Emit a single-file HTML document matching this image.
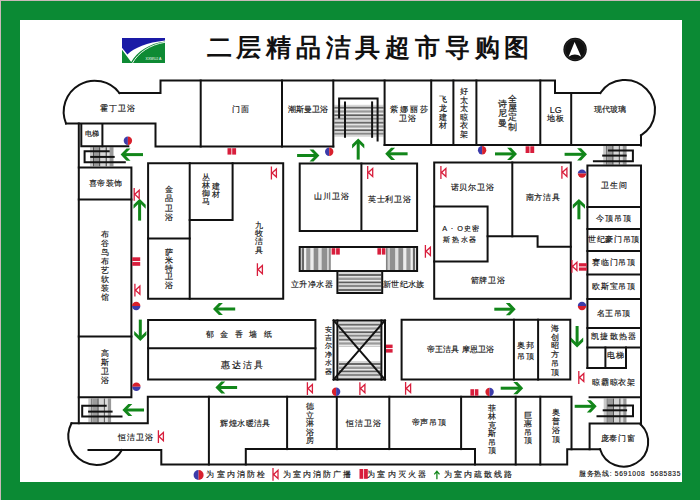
<!DOCTYPE html>
<html><head><meta charset="utf-8"><style>
*{margin:0;padding:0;box-sizing:border-box}
html,body{width:700px;height:500px;overflow:hidden;background:#0b8a34}
body{position:relative;font-family:"Liberation Sans",sans-serif;color:#1a1a1a}
#edge{position:absolute;left:0;top:0;width:700px;height:500px;border-top:1px solid #c9b9b9;border-left:1px solid #c9b9b9}
#paper{position:absolute;left:20px;top:20px;width:662px;height:462px;background:#fff}
#map{position:absolute;left:0;top:0}
.t{position:absolute;white-space:nowrap;transform:translate(-50%,-50%);line-height:1;color:#111;-webkit-text-stroke:0.15px #111}
.v{position:absolute;transform:translateX(-50%);text-align:center;width:12px;margin-left:0}
.l{position:absolute;font-size:9.3px;white-space:nowrap;line-height:1;letter-spacing:0.8px;color:#111;-webkit-text-stroke:0.15px #111}
#title{position:absolute;left:206.5px;top:35.5px;font-size:24.5px;font-weight:bold;letter-spacing:4.8px;white-space:nowrap;line-height:1;font-family:"Liberation Serif",serif;color:#111}
#logo{position:absolute;left:122px;top:38px}
#compass{position:absolute;left:562px;top:35.5px}
</style></head><body>
<div id="edge"></div>
<div id="paper"></div>

<svg id="logo" width="43" height="25" viewBox="0 0 43 25">
 <rect width="43" height="25" fill="#1a1aa6"/>
 <path d="M0,9.8 L5.4,16.4 C12,10 25,4.5 43,2.5 L43,25 L0,25 Z" fill="#fff"/>
 <path d="M0,11.8 L9.2,24 C15,14 27,5.5 43,3.6 L43,25 L0,25 Z" fill="#0e8a34"/>
 <path d="M10.5,25 C16,15 28,6.5 43,4.3" stroke="#fff" stroke-width="0.9" fill="none"/>
 <text x="23.5" y="22" font-size="3.6" fill="#fff" font-family="Liberation Sans, sans-serif">XXWUJ A</text>
</svg>

<svg id="compass" width="26" height="26" viewBox="0 0 26 26">
 <circle cx="13.1" cy="13.5" r="11.7" fill="#111"/>
 <circle cx="13.1" cy="13.5" r="10.3" fill="none" stroke="#444" stroke-width="0.4"/>
 <path d="M12.6,6 L19.2,20.7 Q12.8,16.3 6.6,20.7 Z" fill="#fff"/>
</svg>
<svg id="map" width="700" height="500" viewBox="0 0 700 500">

<g><rect x="334.3" y="104.80" width="49.30" height="2.00" fill="#d8d8d8"/><rect x="334.3" y="106.80" width="49.30" height="2.00" fill="#6a6a6a"/><rect x="334.3" y="108.80" width="49.30" height="1.50" fill="#e4e4e4"/><rect x="334.3" y="110.30" width="49.30" height="2.50" fill="#9a9a9a"/><rect x="334.3" y="112.80" width="49.30" height="1.50" fill="#eaeaea"/><rect x="334.3" y="114.30" width="49.30" height="2.00" fill="#5e5e5e"/><rect x="334.3" y="116.30" width="49.30" height="1.50" fill="#d4d4d4"/><rect x="334.3" y="117.80" width="49.30" height="2.00" fill="#888"/><rect x="334.3" y="119.80" width="49.30" height="2.00" fill="#d8d8d8"/><rect x="334.3" y="121.80" width="49.30" height="2.00" fill="#6a6a6a"/><rect x="334.3" y="123.80" width="49.30" height="1.50" fill="#e4e4e4"/><rect x="334.3" y="125.30" width="49.30" height="2.50" fill="#9a9a9a"/><rect x="334.3" y="127.80" width="49.30" height="1.50" fill="#eaeaea"/><rect x="334.3" y="129.30" width="49.30" height="2.00" fill="#5e5e5e"/><rect x="334.3" y="131.30" width="49.30" height="1.50" fill="#d4d4d4"/><rect x="334.3" y="132.80" width="49.30" height="2.00" fill="#888"/><rect x="334.3" y="134.80" width="49.30" height="2.00" fill="#d8d8d8"/><rect x="90.00" y="147.2" width="3.00" height="19.10" fill="#c8c8c8"/><rect x="93.00" y="147.2" width="1.00" height="19.10" fill="#555"/><rect x="94.00" y="147.2" width="5.00" height="19.10" fill="#9c9c9c"/><rect x="99.00" y="147.2" width="1.50" height="19.10" fill="#555"/><rect x="100.50" y="147.2" width="5.00" height="19.10" fill="#d6d6d6"/><rect x="105.50" y="147.2" width="1.50" height="19.10" fill="#666"/><rect x="107.00" y="147.2" width="2.50" height="19.10" fill="#dedede"/><rect x="109.50" y="147.2" width="4.00" height="19.10" fill="#999"/><rect x="113.50" y="147.2" width="0.20" height="19.10" fill="#c8c8c8"/><rect x="603.20" y="146" width="3.00" height="18.60" fill="#c8c8c8"/><rect x="606.20" y="146" width="1.00" height="18.60" fill="#555"/><rect x="607.20" y="146" width="5.00" height="18.60" fill="#9c9c9c"/><rect x="612.20" y="146" width="1.50" height="18.60" fill="#555"/><rect x="613.70" y="146" width="5.00" height="18.60" fill="#d6d6d6"/><rect x="618.70" y="146" width="1.50" height="18.60" fill="#666"/><rect x="620.20" y="146" width="2.50" height="18.60" fill="#dedede"/><rect x="622.70" y="146" width="3.90" height="18.60" fill="#999"/><rect x="88.30" y="398.5" width="3.00" height="23.90" fill="#c8c8c8"/><rect x="91.30" y="398.5" width="1.00" height="23.90" fill="#555"/><rect x="92.30" y="398.5" width="5.00" height="23.90" fill="#9c9c9c"/><rect x="97.30" y="398.5" width="1.50" height="23.90" fill="#555"/><rect x="98.80" y="398.5" width="5.00" height="23.90" fill="#d6d6d6"/><rect x="103.80" y="398.5" width="1.50" height="23.90" fill="#666"/><rect x="105.30" y="398.5" width="2.50" height="23.90" fill="#dedede"/><rect x="107.80" y="398.5" width="3.30" height="23.90" fill="#999"/><rect x="603.70" y="398.5" width="3.00" height="24.10" fill="#c8c8c8"/><rect x="606.70" y="398.5" width="1.00" height="24.10" fill="#555"/><rect x="607.70" y="398.5" width="5.00" height="24.10" fill="#9c9c9c"/><rect x="612.70" y="398.5" width="1.50" height="24.10" fill="#555"/><rect x="614.20" y="398.5" width="5.00" height="24.10" fill="#d6d6d6"/><rect x="619.20" y="398.5" width="1.50" height="24.10" fill="#666"/><rect x="620.70" y="398.5" width="2.50" height="24.10" fill="#dedede"/><rect x="623.20" y="398.5" width="3.30" height="24.10" fill="#999"/><rect x="300.70" y="248.1" width="1.00" height="21.90" fill="#eee"/><rect x="301.70" y="248.1" width="2.50" height="21.90" fill="#686868"/><rect x="304.20" y="248.1" width="2.00" height="21.90" fill="#f0f0f0"/><rect x="306.20" y="248.1" width="4.40" height="21.90" fill="#9a9a9a"/><rect x="310.60" y="248.1" width="3.00" height="21.90" fill="#ececec"/><rect x="313.60" y="248.1" width="5.00" height="21.90" fill="#8c8c8c"/><rect x="318.60" y="248.1" width="3.00" height="21.90" fill="#e0e0e0"/><rect x="321.60" y="248.1" width="5.70" height="21.90" fill="#909090"/><rect x="327.30" y="248.1" width="2.00" height="21.90" fill="#ccc"/><rect x="329.30" y="248.1" width="1.30" height="21.90" fill="#666"/><rect x="415.10" y="248.1" width="1.00" height="21.90" fill="#eee"/><rect x="412.60" y="248.1" width="2.50" height="21.90" fill="#686868"/><rect x="410.60" y="248.1" width="2.00" height="21.90" fill="#f0f0f0"/><rect x="406.20" y="248.1" width="4.40" height="21.90" fill="#9a9a9a"/><rect x="403.20" y="248.1" width="3.00" height="21.90" fill="#ececec"/><rect x="398.20" y="248.1" width="5.00" height="21.90" fill="#8c8c8c"/><rect x="395.20" y="248.1" width="3.00" height="21.90" fill="#e0e0e0"/><rect x="389.50" y="248.1" width="5.70" height="21.90" fill="#909090"/><rect x="387.50" y="248.1" width="2.00" height="21.90" fill="#ccc"/><rect x="386.10" y="248.1" width="1.40" height="21.90" fill="#666"/><rect x="385.60" y="248.1" width="0.50" height="21.90" fill="#eee"/><rect x="338.4" y="272.00" width="42.80" height="2.00" fill="#d8d8d8"/><rect x="338.4" y="274.00" width="42.80" height="2.00" fill="#6a6a6a"/><rect x="338.4" y="276.00" width="42.80" height="1.50" fill="#e4e4e4"/><rect x="338.4" y="277.50" width="42.80" height="2.50" fill="#9a9a9a"/><rect x="338.4" y="280.00" width="42.80" height="1.50" fill="#eaeaea"/><rect x="338.4" y="281.50" width="42.80" height="2.00" fill="#5e5e5e"/><rect x="338.4" y="283.50" width="42.80" height="1.50" fill="#d4d4d4"/><rect x="338.4" y="285.00" width="42.80" height="2.00" fill="#888"/><rect x="338.4" y="287.00" width="42.80" height="2.00" fill="#d8d8d8"/><rect x="338.4" y="289.00" width="42.80" height="2.00" fill="#6a6a6a"/><rect x="338.4" y="291.00" width="42.80" height="1.00" fill="#e4e4e4"/><rect x="338.9" y="321.80" width="41.80" height="2.00" fill="#d8d8d8"/><rect x="338.9" y="323.80" width="41.80" height="2.00" fill="#6a6a6a"/><rect x="338.9" y="325.80" width="41.80" height="1.50" fill="#e4e4e4"/><rect x="338.9" y="327.30" width="41.80" height="2.50" fill="#9a9a9a"/><rect x="338.9" y="329.80" width="41.80" height="1.50" fill="#eaeaea"/><rect x="338.9" y="331.30" width="41.80" height="2.00" fill="#5e5e5e"/><rect x="338.9" y="333.30" width="41.80" height="1.50" fill="#d4d4d4"/><rect x="338.9" y="334.80" width="41.80" height="2.00" fill="#888"/><rect x="338.9" y="336.80" width="41.80" height="2.00" fill="#d8d8d8"/><rect x="338.9" y="338.80" width="41.80" height="2.00" fill="#6a6a6a"/><rect x="338.9" y="340.80" width="41.80" height="1.50" fill="#e4e4e4"/><rect x="338.9" y="342.30" width="41.80" height="2.50" fill="#9a9a9a"/><rect x="338.9" y="344.80" width="41.80" height="1.50" fill="#eaeaea"/><rect x="338.9" y="346.30" width="41.80" height="0.30" fill="#5e5e5e"/><rect x="338.9" y="361.00" width="41.80" height="2.00" fill="#d8d8d8"/><rect x="338.9" y="363.00" width="41.80" height="2.00" fill="#6a6a6a"/><rect x="338.9" y="365.00" width="41.80" height="1.50" fill="#e4e4e4"/><rect x="338.9" y="366.50" width="41.80" height="2.50" fill="#9a9a9a"/><rect x="338.9" y="369.00" width="41.80" height="1.50" fill="#eaeaea"/><rect x="338.9" y="370.50" width="41.80" height="2.00" fill="#5e5e5e"/><rect x="338.9" y="372.50" width="41.80" height="1.50" fill="#d4d4d4"/><rect x="338.9" y="374.00" width="41.80" height="2.00" fill="#888"/><rect x="338.9" y="376.00" width="41.80" height="2.00" fill="#d8d8d8"/><rect x="338.9" y="378.00" width="41.80" height="0.40" fill="#6a6a6a"/></g>
<g fill="none" stroke="#111" stroke-width="2" stroke-linecap="square">
<path d="M119.43,93.00 A31,31 0 0,0 79.32,84.79 A31,31 0 0,0 66.04,123.51"/>
<path d="M119.43,93.00 H160.5 V80.5 H555 V93 H600.28"/>
<path d="M600.28,93.01 A30,30 0 0,1 646.63,89.22 A30,30 0 0,1 640.99,135.39"/>
<path d="M640.99,135.39 V145.5"/>
<path d="M66.04,123.51 H155.5 V146.5 H333.3"/>
<path d="M384.6,145 H641"/>
<path d="M200.7,80.5 V146.5"/>
<path d="M282,80.5 V146.5"/>
<path d="M333.3,80.5 V146.5"/>
<path d="M384.6,80.5 V145"/>
<path d="M431.2,80.5 V145"/>
<path d="M453.4,80.5 V145"/>
<path d="M476.4,80.5 V145"/>
<path d="M540.3,80.5 V145"/>
<path d="M571.2,93 V145"/>
<path d="M78.8,123.5 V423.3"/>
<path d="M81.3,124 V146.3 H128.3"/>
<path d="M102.4,124 V146.3"/>
<path d="M78.8,167.4 H131.4 V397.2 H78.8"/>
<path d="M78.8,199.6 H131.4"/>
<path d="M78.8,336.4 H131.4"/>
<path d="M71.50,423.28 H147.8 V396.8 H571.5 V449.2"/>
<path d="M71.50,423.28 A28.5,28.5 0 0,0 83.44,461.58 A28.5,28.5 0 0,0 121.85,450.00"/>
<path d="M88.5,450 H161.3 V464.5 H567.2 V449.2 H600.07"/>
<path d="M600.07,449.19 A24.6,24.6 0 0,0 636.38,463.02 A24.6,24.6 0 0,0 640.81,424.42"/>
<path d="M640.81,424.42 V423.6"/>
<path d="M589.6,449.2 V423.6 H640.8"/>
<path d="M208.9,396.8 V464.5"/>
<path d="M245.8,464.5 V449.1 H475 V464.5"/>
<path d="M287.1,396.8 V449.1"/>
<path d="M336.8,396.8 V449.1"/>
<path d="M389.3,396.8 V449.1"/>
<path d="M461.1,396.8 V449.1"/>
<path d="M515.7,396.8 V464.5"/>
<path d="M540.3,396.8 V464.5"/>
<path d="M148.1,163.2 H283.2 V298.8 H148.1 Z"/>
<path d="M189.7,163.2 V298.8"/>
<path d="M148.1,238.6 H189.7"/>
<path d="M189.7,220 H232.6 V163.2"/>
<path d="M299.7,163.6 H417.1 V231 H299.7 Z"/>
<path d="M361.4,163.6 V231"/>
<path d="M299.7,271 V247.1 H417.1 V271 H382.2 V292.9 H337.4 V271 Z"/>
<path d="M337.4,271 H382.2"/>
<path d="M148.1,320 H315.4 V379.4 H148.1 Z"/>
<path d="M148.1,348.3 H315.4"/>
<path d="M333.6,320.4 H385 V379.6 H333.6 Z"/>
<path d="M337.4,320.4 V379.6"/>
<path d="M381.4,320.4 V379.6"/>
<path d="M333.6,320.4 L385,379.6"/>
<path d="M385,320.4 L333.6,379.6"/>
<path d="M434.2,162.5 H570.8 V298.7 H434.2 Z"/>
<path d="M512.3,162.5 V236.3"/>
<path d="M434.2,206.4 H487.6 V261.4 H434.2"/>
<path d="M487.6,236.3 H537.6 V246.8 H570.8"/>
<path d="M401.6,319.7 H570.3 V379.6 H401.6 Z"/>
<path d="M513.9,319.7 V379.6"/>
<path d="M538.1,319.7 V379.6"/>
<path d="M587.4,367.9 V165.6 H641 V423.6"/>
<path d="M587.4,206.9 H641"/>
<path d="M587.4,228.9 H641"/>
<path d="M587.4,251 H641"/>
<path d="M587.4,274.6 H641"/>
<path d="M587.4,299 H641"/>
<path d="M587.4,328.1 H641"/>
<path d="M587.4,347.5 H641"/>
<path d="M605.4,347.5 V367.9"/>
<path d="M626,347.5 V367.9 H587.4"/>
<path d="M339.1,117.5 V98.6 H377.6 V140.6"/>
<path d="M345,102.4 V136.8"/>
<path d="M372.1,102.4 V136.8"/>
<path d="M108.7,151.2 H84.6 V162.3 H124.8"/>
<path d="M91.2,156.9 H113.7"/>
<path d="M608.9,150.4 H632.9 V161.3 H593.9"/>
<path d="M603.2,155.6 H625.7"/>
<path d="M105.7,405.7 H82.2 V416.4 H121.5"/>
<path d="M89.1,411.6 H111.6"/>
<path d="M589.6,397.2 H640.8"/>
<path d="M608.5,405.6 H633 V416.2 H597.5"/>
<path d="M603.7,410.3 H626.1"/>
</g>
<rect x="124.00" y="153.10" width="19.00" height="3" fill="#12861a"/>
<path d="M120.60,154.60 L126.50,160.70 L130.50,160.70 L124.60,154.60 L130.50,148.50 L126.50,148.50 Z" fill="#12861a"/>
<rect x="297.10" y="154.00" width="18.90" height="3" fill="#12861a"/>
<path d="M319.40,155.50 L313.50,161.60 L309.50,161.60 L315.40,155.50 L309.50,149.40 L313.50,149.40 Z" fill="#12861a"/>
<rect x="356.70" y="142.00" width="3" height="17.60" fill="#12861a"/>
<path d="M358.20,138.60 L364.30,144.50 L364.30,148.50 L358.20,142.60 L352.10,148.50 L352.10,144.50 Z" fill="#12861a"/>
<rect x="388.60" y="152.30" width="19.00" height="3" fill="#12861a"/>
<path d="M385.20,153.80 L391.10,159.90 L395.10,159.90 L389.20,153.80 L395.10,147.70 L391.10,147.70 Z" fill="#12861a"/>
<rect x="495.00" y="152.40" width="18.60" height="3" fill="#12861a"/>
<path d="M517.00,153.90 L511.10,160.00 L507.10,160.00 L513.00,153.90 L507.10,147.80 L511.10,147.80 Z" fill="#12861a"/>
<rect x="564.60" y="152.80" width="19.00" height="3" fill="#12861a"/>
<path d="M587.00,154.30 L581.10,160.40 L577.10,160.40 L583.00,154.30 L577.10,148.20 L581.10,148.20 Z" fill="#12861a"/>
<rect x="138.10" y="202.20" width="3" height="18.40" fill="#12861a"/>
<path d="M139.60,198.80 L145.70,204.70 L145.70,208.70 L139.60,202.80 L133.50,208.70 L133.50,204.70 Z" fill="#12861a"/>
<rect x="577.40" y="202.30" width="3" height="17.00" fill="#12861a"/>
<path d="M578.90,198.90 L585.00,204.80 L585.00,208.80 L578.90,202.90 L572.80,208.80 L572.80,204.80 Z" fill="#12861a"/>
<rect x="138.80" y="319.60" width="3" height="18.00" fill="#12861a"/>
<path d="M140.30,341.00 L146.40,335.10 L146.40,331.10 L140.30,337.00 L134.20,331.10 L134.20,335.10 Z" fill="#12861a"/>
<rect x="216.40" y="307.50" width="18.80" height="3" fill="#12861a"/>
<path d="M213.00,309.00 L218.90,315.10 L222.90,315.10 L217.00,309.00 L222.90,302.90 L218.90,302.90 Z" fill="#12861a"/>
<rect x="494.30" y="307.70" width="18.00" height="3" fill="#12861a"/>
<path d="M515.70,309.20 L509.80,315.30 L505.80,315.30 L511.70,309.20 L505.80,303.10 L509.80,303.10 Z" fill="#12861a"/>
<rect x="575.60" y="326.00" width="3" height="18.10" fill="#12861a"/>
<path d="M577.10,347.50 L583.20,341.60 L583.20,337.60 L577.10,343.50 L571.00,337.60 L571.00,341.60 Z" fill="#12861a"/>
<rect x="218.80" y="386.00" width="18.30" height="3" fill="#12861a"/>
<path d="M215.40,387.50 L221.30,393.60 L225.30,393.60 L219.40,387.50 L225.30,381.40 L221.30,381.40 Z" fill="#12861a"/>
<rect x="500.70" y="386.70" width="19.10" height="3" fill="#12861a"/>
<path d="M523.20,388.20 L517.30,394.30 L513.30,394.30 L519.20,388.20 L513.30,382.10 L517.30,382.10 Z" fill="#12861a"/>
<rect x="574.70" y="404.80" width="18.60" height="3" fill="#12861a"/>
<path d="M596.70,406.30 L590.80,412.40 L586.80,412.40 L592.70,406.30 L586.80,400.20 L590.80,400.20 Z" fill="#12861a"/>
<rect x="125.80" y="408.50" width="18.20" height="3" fill="#12861a"/>
<path d="M122.40,410.00 L128.30,416.10 L132.30,416.10 L126.40,410.00 L132.30,403.90 L128.30,403.90 Z" fill="#12861a"/>
<path d="M271.4,166.6 V179.39999999999998 M272.0,173.0 L276.4,168.89999999999998 V177.1 Z" stroke="#d81e3c" stroke-width="1.3" fill="none"/>
<path d="M367.7,166.1 V178.89999999999998 M368.3,172.5 L372.7,168.39999999999998 V176.6 Z" stroke="#d81e3c" stroke-width="1.3" fill="none"/>
<path d="M440.9,166.1 V178.89999999999998 M441.5,172.5 L445.9,168.39999999999998 V176.6 Z" stroke="#d81e3c" stroke-width="1.3" fill="none"/>
<path d="M561.9,165.9 V178.7 M562.5,172.3 L566.9,168.2 V176.4 Z" stroke="#d81e3c" stroke-width="1.3" fill="none"/>
<path d="M134.20000000000002,187.9 V200.7 M134.8,194.3 L139.20000000000002,190.2 V198.4 Z" stroke="#d81e3c" stroke-width="1.3" fill="none"/>
<path d="M134.9,283.79999999999995 V296.59999999999997 M135.5,290.2 L139.9,286.09999999999997 V294.29999999999995 Z" stroke="#d81e3c" stroke-width="1.3" fill="none"/>
<path d="M257.4,263.2 V276.0 M258.0,269.6 L262.4,265.5 V273.7 Z" stroke="#d81e3c" stroke-width="1.3" fill="none"/>
<path d="M425.4,244.9 V257.7 M426.0,251.3 L430.4,247.2 V255.4 Z" stroke="#d81e3c" stroke-width="1.3" fill="none"/>
<path d="M571.9,259.99999999999994 V272.79999999999995 M572.5,266.4 L576.9,262.29999999999995 V270.49999999999994 Z" stroke="#d81e3c" stroke-width="1.3" fill="none"/>
<path d="M578.8,371.09999999999997 V383.9 M579.4,377.5 L583.8,373.4 V381.59999999999997 Z" stroke="#d81e3c" stroke-width="1.3" fill="none"/>
<path d="M307.4,382.2 V395.0 M308.0,388.6 L312.4,384.5 V392.7 Z" stroke="#d81e3c" stroke-width="1.3" fill="none"/>
<path d="M359.9,382.2 V395.0 M360.5,388.6 L364.9,384.5 V392.7 Z" stroke="#d81e3c" stroke-width="1.3" fill="none"/>
<path d="M405.59999999999997,381.99999999999994 V394.79999999999995 M406.2,388.4 L410.59999999999997,384.29999999999995 V392.49999999999994 Z" stroke="#d81e3c" stroke-width="1.3" fill="none"/>
<path d="M158.4,430.2 V443.0 M159.0,436.6 L163.4,432.5 V440.7 Z" stroke="#d81e3c" stroke-width="1.3" fill="none"/>
<path d="M273.0,467.99999999999994 V480.79999999999995 M273.6,474.4 L278.0,470.29999999999995 V478.49999999999994 Z" stroke="#d81e3c" stroke-width="1.3" fill="none"/>
<rect x="227.5" y="148.2" width="3.90" height="6.400000000000006" fill="#d81e3c"/>
<rect x="232.20" y="148.2" width="3.90" height="6.400000000000006" fill="#d81e3c"/>
<rect x="525.6" y="146.3" width="3.90" height="6.699999999999989" fill="#d81e3c"/>
<rect x="530.30" y="146.3" width="3.90" height="6.699999999999989" fill="#d81e3c"/>
<rect x="132.2" y="257.3" width="8.0" height="3.75" fill="#d81e3c"/>
<rect x="132.2" y="262.05" width="8.0" height="3.75" fill="#d81e3c"/>
<rect x="331.6" y="248.2" width="3.70" height="6.400000000000006" fill="#d81e3c"/>
<rect x="336.10" y="248.2" width="3.70" height="6.400000000000006" fill="#d81e3c"/>
<rect x="377.4" y="248.2" width="3.60" height="6.400000000000006" fill="#d81e3c"/>
<rect x="381.80" y="248.2" width="3.60" height="6.400000000000006" fill="#d81e3c"/>
<rect x="578.9" y="263.2" width="7.899999999999977" height="3.25" fill="#d81e3c"/>
<rect x="578.9" y="267.45" width="7.899999999999977" height="3.25" fill="#d81e3c"/>
<rect x="386" y="344.6" width="6.600000000000023" height="3.50" fill="#d81e3c"/>
<rect x="386" y="349.10" width="6.600000000000023" height="3.50" fill="#d81e3c"/>
<rect x="470.4" y="389.2" width="3.60" height="6.5" fill="#d81e3c"/>
<rect x="474.80" y="389.2" width="3.60" height="6.5" fill="#d81e3c"/>
<rect x="359.5" y="469" width="3.75" height="9.800000000000011" fill="#d81e3c"/>
<rect x="364.05" y="469" width="3.75" height="9.800000000000011" fill="#d81e3c"/>
<path d="M127.9,136.60000000000002 A4.2,4.2 0 0,0 127.9,145.0 Z" fill="#3c3caa"/><path d="M127.9,136.60000000000002 A4.2,4.2 0 0,1 127.9,145.0 Z" fill="#d8202c"/>
<path d="M329.2,147.60000000000002 A4.2,4.2 0 0,0 329.2,156.0 Z" fill="#3c3caa"/><path d="M329.2,147.60000000000002 A4.2,4.2 0 0,1 329.2,156.0 Z" fill="#d8202c"/>
<path d="M482.1,146.0 A4.2,4.2 0 0,0 482.1,154.39999999999998 Z" fill="#3c3caa"/><path d="M482.1,146.0 A4.2,4.2 0 0,1 482.1,154.39999999999998 Z" fill="#d8202c"/>
<path d="M577.8,173.6 A4.2,4.2 0 0,1 586.2,173.6 Z" fill="#3c3caa"/><path d="M577.8,173.6 A4.2,4.2 0 0,0 586.2,173.6 Z" fill="#d8202c"/>
<path d="M132.0,306 A4.2,4.2 0 0,1 140.39999999999998,306 Z" fill="#d8202c"/><path d="M132.0,306 A4.2,4.2 0 0,0 140.39999999999998,306 Z" fill="#3c3caa"/>
<path d="M132.20000000000002,386.8 A4.2,4.2 0 0,1 140.6,386.8 Z" fill="#d8202c"/><path d="M132.20000000000002,386.8 A4.2,4.2 0 0,0 140.6,386.8 Z" fill="#3c3caa"/>
<path d="M577.8,306 A4.2,4.2 0 0,1 586.2,306 Z" fill="#3c3caa"/><path d="M577.8,306 A4.2,4.2 0 0,0 586.2,306 Z" fill="#d8202c"/>
<path d="M336.1,387.6 A4.2,4.2 0 0,0 336.1,396.0 Z" fill="#d8202c"/><path d="M336.1,387.6 A4.2,4.2 0 0,1 336.1,396.0 Z" fill="#3c3caa"/>
<path d="M489.6,387.8 A4.2,4.2 0 0,0 489.6,396.2 Z" fill="#d8202c"/><path d="M489.6,387.8 A4.2,4.2 0 0,1 489.6,396.2 Z" fill="#3c3caa"/>
<path d="M198.6,470 A5,5 0 0,0 198.6,480 Z" fill="#3c3caa"/><path d="M198.6,470 A5,5 0 0,1 198.6,480 Z" fill="#d8202c"/>
<path d="M436.9,479.3 V471.5 M434.3,474.4 L436.9,471.2 L439.5,474.4" stroke="#12861a" stroke-width="1.3" fill="none"/>
</svg>
<div class="t" style="left:117.7px;top:108.9px;font-size:7.53px;letter-spacing:1.06px;padding-left:1.06px;">霍丁卫浴</div>
<div class="t" style="left:91.8px;top:134.5px;font-size:7.10px;letter-spacing:0.36px;padding-left:0.36px;">电梯</div>
<div class="t" style="left:240.4px;top:109.6px;font-size:7.85px;letter-spacing:0.79px;padding-left:0.79px;">门面</div>
<div class="t" style="left:307.9px;top:109.6px;font-size:7.85px;letter-spacing:0.14px;padding-left:0.14px;">潮斯曼卫浴</div>
<div class="t" style="left:408.6px;top:109.6px;font-size:7.71px;letter-spacing:2px;text-indent:2px">紫娜丽莎</div>
<div class="t" style="left:407.5px;top:119.3px;font-size:7.71px;letter-spacing:1.5px;text-indent:1.5px">卫浴</div>
<div class="t" style="left:442.6px;top:99.9px;font-size:8.0px;">飞</div>
<div class="t" style="left:442.6px;top:108.7px;font-size:8.0px;">龙</div>
<div class="t" style="left:442.6px;top:117.5px;font-size:8.0px;">建</div>
<div class="t" style="left:442.6px;top:126.3px;font-size:8.0px;">材</div>
<div class="t" style="left:464.3px;top:92.0px;font-size:8.0px;">好</div>
<div class="t" style="left:464.3px;top:100.56px;font-size:8.0px;">太</div>
<div class="t" style="left:464.3px;top:109.12px;font-size:8.0px;">太</div>
<div class="t" style="left:464.3px;top:117.68px;font-size:8.0px;">晾</div>
<div class="t" style="left:464.3px;top:126.24px;font-size:8.0px;">衣</div>
<div class="t" style="left:464.3px;top:134.8px;font-size:8.0px;">架</div>
<div class="t" style="left:502.1px;top:103.73px;font-size:8.5px;">诗</div>
<div class="t" style="left:502.1px;top:113.45px;font-size:8.5px;">尼</div>
<div class="t" style="left:502.1px;top:123.17px;font-size:8.5px;">曼</div>
<div class="t" style="left:512.1px;top:98.92px;font-size:8.5px;">全</div>
<div class="t" style="left:512.1px;top:108.21px;font-size:8.5px;">屋</div>
<div class="t" style="left:512.1px;top:117.49px;font-size:8.5px;">定</div>
<div class="t" style="left:512.1px;top:126.77px;font-size:8.5px;">制</div>
<div class="t" style="left:555.7px;top:110px;font-size:8.93px;">LG</div>
<div class="t" style="left:555.7px;top:119.3px;font-size:8.06px;letter-spacing:1.27px;padding-left:1.27px;">地板</div>
<div class="t" style="left:610px;top:109.6px;font-size:7.85px;letter-spacing:0.16px;padding-left:0.16px;">现代玻璃</div>
<div class="t" style="left:105.4px;top:183.6px;font-size:7.85px;letter-spacing:0.33px;padding-left:0.33px;">喜帝装饰</div>
<div class="t" style="left:105.2px;top:234.8px;font-size:8.0px;">布</div>
<div class="t" style="left:105.2px;top:243.89px;font-size:8.0px;">谷</div>
<div class="t" style="left:105.2px;top:252.97px;font-size:8.0px;">鸟</div>
<div class="t" style="left:105.2px;top:262.06px;font-size:8.0px;">布</div>
<div class="t" style="left:105.2px;top:271.14px;font-size:8.0px;">艺</div>
<div class="t" style="left:105.2px;top:280.23px;font-size:8.0px;">软</div>
<div class="t" style="left:105.2px;top:289.31px;font-size:8.0px;">装</div>
<div class="t" style="left:105.2px;top:298.4px;font-size:8.0px;">馆</div>
<div class="t" style="left:104.8px;top:353.24px;font-size:8.3px;">高</div>
<div class="t" style="left:104.8px;top:362.25px;font-size:8.3px;">斯</div>
<div class="t" style="left:104.8px;top:371.25px;font-size:8.3px;">卫</div>
<div class="t" style="left:104.8px;top:380.26px;font-size:8.3px;">浴</div>
<div class="t" style="left:135.9px;top:437.6px;font-size:8.06px;letter-spacing:1.05px;padding-left:1.05px;">恒洁卫浴</div>
<div class="t" style="left:168.5px;top:188.74px;font-size:8.3px;">金</div>
<div class="t" style="left:168.5px;top:198.25px;font-size:8.3px;">品</div>
<div class="t" style="left:168.5px;top:207.75px;font-size:8.3px;">卫</div>
<div class="t" style="left:168.5px;top:217.26px;font-size:8.3px;">浴</div>
<div class="t" style="left:205.5px;top:177.8px;font-size:8.0px;">丛</div>
<div class="t" style="left:205.5px;top:186.0px;font-size:8.0px;">林</div>
<div class="t" style="left:205.5px;top:194.2px;font-size:8.0px;">御</div>
<div class="t" style="left:205.5px;top:202.4px;font-size:8.0px;">马</div>
<div class="t" style="left:215.6px;top:186.6px;font-size:8.0px;">建</div>
<div class="t" style="left:215.6px;top:194.9px;font-size:8.0px;">材</div>
<div class="t" style="left:258.5px;top:225.69px;font-size:8.2px;">九</div>
<div class="t" style="left:258.5px;top:234.06px;font-size:8.2px;">牧</div>
<div class="t" style="left:258.5px;top:242.44px;font-size:8.2px;">洁</div>
<div class="t" style="left:258.5px;top:250.81px;font-size:8.2px;">具</div>
<div class="t" style="left:168.9px;top:252.68px;font-size:7.5px;">萨</div>
<div class="t" style="left:168.9px;top:260.89px;font-size:7.5px;">米</div>
<div class="t" style="left:168.9px;top:269.1px;font-size:7.5px;">特</div>
<div class="t" style="left:168.9px;top:277.31px;font-size:7.5px;">卫</div>
<div class="t" style="left:168.9px;top:285.52px;font-size:7.5px;">浴</div>
<div class="t" style="left:331.4px;top:197.4px;font-size:8.06px;letter-spacing:1.18px;padding-left:1.18px;">山川卫浴</div>
<div class="t" style="left:389.3px;top:200px;font-size:8.06px;letter-spacing:0.75px;padding-left:0.75px;">英士利卫浴</div>
<div class="t" style="left:311.8px;top:284.7px;font-size:8.06px;letter-spacing:0.47px;padding-left:0.47px;">立升净水器</div>
<div class="t" style="left:403.7px;top:284.7px;font-size:7.85px;letter-spacing:0.21px;padding-left:0.21px;">新世纪水族</div>
<div class="t" style="left:472.1px;top:187.6px;font-size:8.06px;letter-spacing:0.75px;padding-left:0.75px;">诺贝尔卫浴</div>
<div class="t" style="left:542.8px;top:196.8px;font-size:8.39px;letter-spacing:0.76px;padding-left:0.76px;">南方洁具</div>
<div class="t" style="left:460.6px;top:228.9px;font-size:7.3px;letter-spacing:1px;padding-left:1px">A · O史密</div>
<div class="t" style="left:459.7px;top:238.5px;font-size:6.99px;letter-spacing:1.80px;padding-left:1.80px;">斯热水器</div>
<div class="t" style="left:487.9px;top:280.7px;font-size:8.06px;letter-spacing:0.82px;padding-left:0.82px;">箭牌卫浴</div>
<div class="t" style="left:613.6px;top:185.6px;font-size:8.06px;letter-spacing:0.95px;padding-left:0.95px;">卫生间</div>
<div class="t" style="left:613.6px;top:218.9px;font-size:7.74px;letter-spacing:0.81px;padding-left:0.81px;">今顶吊顶</div>
<div class="t" style="left:613.6px;top:239.6px;font-size:7.85px;letter-spacing:0.66px;padding-left:0.66px;">世纪豪门吊顶</div>
<div class="t" style="left:613.6px;top:263.2px;font-size:8.06px;letter-spacing:0.75px;padding-left:0.75px;">赛临门吊顶</div>
<div class="t" style="left:613.6px;top:287.4px;font-size:8.06px;letter-spacing:0.75px;padding-left:0.75px;">欧斯宝吊顶</div>
<div class="t" style="left:613.6px;top:313.6px;font-size:8.06px;letter-spacing:0.45px;padding-left:0.45px;">名王吊顶</div>
<div class="t" style="left:613.6px;top:337.4px;font-size:8.06px;letter-spacing:1.27px;padding-left:1.27px;">凯捷散热器</div>
<div class="t" style="left:615.7px;top:356px;font-size:7.85px;letter-spacing:0.44px;padding-left:0.44px;">电梯</div>
<div class="t" style="left:613.6px;top:382.9px;font-size:7.85px;letter-spacing:0.59px;padding-left:0.59px;">晾霸晾衣架</div>
<div class="t" style="left:617.9px;top:438.6px;font-size:8.06px;letter-spacing:0.85px;padding-left:0.85px;">庞泰门窗</div>
<div class="t" style="left:238.9px;top:335.4px;font-size:7.71px;word-spacing:4.4px">郁 金 香 墙 纸</div>
<div class="t" style="left:242px;top:364.8px;font-size:9.46px;letter-spacing:1.77px;padding-left:1.77px;">惠达洁具</div>
<div class="t" style="left:328.6px;top:328.55px;font-size:7.0px;">安</div>
<div class="t" style="left:328.6px;top:336.97px;font-size:7.0px;">吉</div>
<div class="t" style="left:328.6px;top:345.39px;font-size:7.0px;">尔</div>
<div class="t" style="left:328.6px;top:353.81px;font-size:7.0px;">净</div>
<div class="t" style="left:328.6px;top:362.23px;font-size:7.0px;">水</div>
<div class="t" style="left:328.6px;top:370.65px;font-size:7.0px;">器</div>
<div class="t" style="left:460.5px;top:349.6px;font-size:7.8px;">帝王洁具 摩恩卫浴</div>
<div class="t" style="left:525.7px;top:345.5px;font-size:8.06px;letter-spacing:1.27px;padding-left:1.27px;">奥邦</div>
<div class="t" style="left:525.7px;top:356.5px;font-size:8.06px;letter-spacing:1.27px;padding-left:1.27px;">吊顶</div>
<div class="t" style="left:554.6px;top:328.77px;font-size:7.5px;">海</div>
<div class="t" style="left:554.6px;top:337.58px;font-size:7.5px;">创</div>
<div class="t" style="left:554.6px;top:346.39px;font-size:7.5px;">昭</div>
<div class="t" style="left:554.6px;top:355.2px;font-size:7.5px;">方</div>
<div class="t" style="left:554.6px;top:364.01px;font-size:7.5px;">吊</div>
<div class="t" style="left:554.6px;top:372.82px;font-size:7.5px;">顶</div>
<div class="t" style="left:245.4px;top:424px;font-size:7.74px;letter-spacing:0.43px;padding-left:0.43px;">辉煌水暖洁具</div>
<div class="t" style="left:309.6px;top:407.12px;font-size:7.6px;">德</div>
<div class="t" style="left:309.6px;top:415.58px;font-size:7.6px;">立</div>
<div class="t" style="left:309.6px;top:424.05px;font-size:7.6px;">淋</div>
<div class="t" style="left:309.6px;top:432.51px;font-size:7.6px;">浴</div>
<div class="t" style="left:309.6px;top:440.98px;font-size:7.6px;">房</div>
<div class="t" style="left:363.6px;top:423.6px;font-size:7.85px;letter-spacing:0.73px;padding-left:0.73px;">恒洁卫浴</div>
<div class="t" style="left:428.9px;top:422.5px;font-size:8.06px;letter-spacing:0.82px;padding-left:0.82px;">帝声吊顶</div>
<div class="t" style="left:491.8px;top:408.66px;font-size:7.7px;">菲</div>
<div class="t" style="left:491.8px;top:417.14px;font-size:7.7px;">林</div>
<div class="t" style="left:491.8px;top:425.61px;font-size:7.7px;">克</div>
<div class="t" style="left:491.8px;top:434.09px;font-size:7.7px;">斯</div>
<div class="t" style="left:491.8px;top:442.56px;font-size:7.7px;">吊</div>
<div class="t" style="left:491.8px;top:451.04px;font-size:7.7px;">顶</div>
<div class="t" style="left:527.9px;top:415.66px;font-size:7.7px;">巨</div>
<div class="t" style="left:527.9px;top:424.15px;font-size:7.7px;">惠</div>
<div class="t" style="left:527.9px;top:432.65px;font-size:7.7px;">吊</div>
<div class="t" style="left:527.9px;top:441.14px;font-size:7.7px;">顶</div>
<div class="t" style="left:555.8px;top:413.11px;font-size:7.8px;">奥</div>
<div class="t" style="left:555.8px;top:422.24px;font-size:7.8px;">普</div>
<div class="t" style="left:555.8px;top:431.36px;font-size:7.8px;">浴</div>
<div class="t" style="left:555.8px;top:440.49px;font-size:7.8px;">顶</div>
<div class="t" style="left:235.8px;top:474.5px;font-size:7.85px;letter-spacing:2.18px;padding-left:2.18px;">为室内消防栓</div>
<div class="t" style="left:317px;top:474.5px;font-size:7.85px;letter-spacing:2.16px;padding-left:2.16px;">为室内消防广播</div>
<div class="t" style="left:396.8px;top:474.5px;font-size:7.85px;letter-spacing:2.22px;padding-left:2.22px;">为室内灭火器</div>
<div class="t" style="left:478.2px;top:474.5px;font-size:7.85px;letter-spacing:1.97px;padding-left:1.97px;">为室内疏散线路</div>
<div class="l" style="left:579px;top:471px;font-size:6.6px;letter-spacing:0.7px">服务热线: 5691008&nbsp;&nbsp;5685835</div>
<div id="title">二层精品洁具超市导购图</div>
</body></html>
